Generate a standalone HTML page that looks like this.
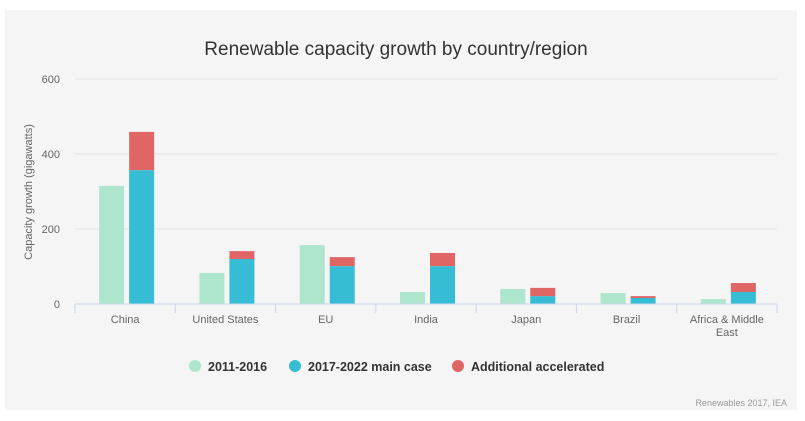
<!DOCTYPE html>
<html><head><meta charset="utf-8"><style>
body{margin:0;width:805px;height:421px;background:#fff;font-family:"Liberation Sans",sans-serif;overflow:hidden}
#panel{position:absolute;left:5px;top:10px;width:792px;height:400px;background:#f5f5f5}
svg{position:absolute;left:0;top:0}
</style></head><body>
<div id="panel"></div>
<svg id="chart" width="805" height="421"></svg>
<script>
const categories=["China","United States","EU","India","Japan","Brazil","Africa & Middle East"];
const s2011=[315,83,157,32,40,29,13];
const s2017=[357,120,101,101,21,16,32];
const sAccel=[102,21,24,35,22,5,24];
const yTicks=[0,200,400,600];
const NS="http://www.w3.org/2000/svg";
const svg=document.getElementById('chart');
const x0=75,x1=777,yBase=304,yTop=79,yMax=600;
const y=v=>yBase-(v/yMax)*(yBase-yTop);
const bw=(x1-x0)/categories.length;
function mk(t,a,txt){const e=document.createElementNS(NS,t);for(const k in a)e.setAttribute(k,a[k]);if(txt!=null)e.textContent=txt;svg.appendChild(e);return e;}
let e=mk('text',{x:396,y:55,'text-anchor':'middle','font-size':19,fill:'#333'},'Renewable capacity growth by country/region');

yTicks.forEach(t=>{
  if(t>0){let g=mk('line',{x1:x0,x2:x1,y1:y(t),y2:y(t),stroke:'#e2e2e2'});}
  let l=mk('text',{x:60,y:y(t)+4,'text-anchor':'end','font-size':11,fill:'#666'},t);
  
});
e=mk('text',{x:32,y:192,'text-anchor':'middle','font-size':11,fill:'#666',transform:'rotate(-90 32 192)'},'Capacity growth (gigawatts)');

categories.forEach((c,i)=>{
  const cx=x0+bw*(i+0.5);
  let r=mk('rect',{x:cx-26,y:y(s2011[i]),width:25,height:yBase-y(s2011[i]),fill:'#ade6cd'});
  
  r=mk('rect',{x:cx+4,y:y(s2017[i]),width:25,height:yBase-y(s2017[i]),fill:'#36bdd5'});
  
  r=mk('rect',{x:cx+4,y:y(s2017[i]+sAccel[i]),width:25,height:y(s2017[i])-y(s2017[i]+sAccel[i]),fill:'#e06666'});
  
  const words=c==="Africa & Middle East"?["Africa & Middle","East"]:[c];
  words.forEach((w,j)=>{let t=mk('text',{x:cx,y:323+j*13,'text-anchor':'middle','font-size':11,fill:'#666'},w);
    });
});
for(let i=0;i<=categories.length;i++){let t=mk('line',{x1:x0+bw*i,x2:x0+bw*i,y1:yBase,y2:yBase+9,stroke:'#ccd6eb'});}
e=mk('line',{x1:x0,x2:x1,y1:yBase,y2:yBase,stroke:'#ccd6eb'});
const leg=[["2011-2016","#ade6cd",195],["2017-2022 main case","#36bdd5",295],["Additional accelerated","#e06666",458]];
leg.forEach(l=>{
  let c=mk('circle',{cx:l[2],cy:366,r:6,fill:l[1]});
  let t=mk('text',{x:l[2]+13,y:371,'font-size':12.5,'font-weight':'bold',fill:'#333'},l[0]);
});
e=mk('text',{x:787,y:406,'text-anchor':'end','font-size':9,fill:'#999'},'Renewables 2017, IEA');

</script>
</body></html>
